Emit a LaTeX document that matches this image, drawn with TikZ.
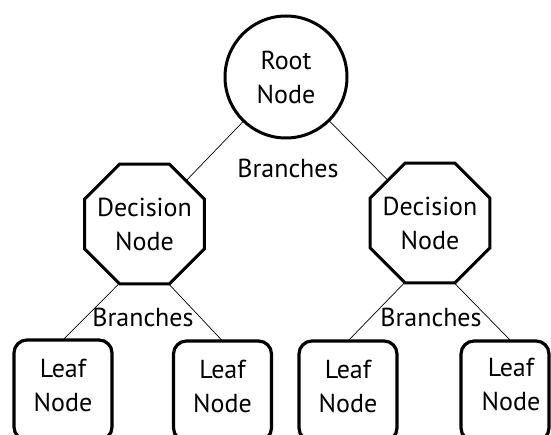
\documentclass[tikz,border=0pt]{standalone}
\usepackage{fontspec}
\setmainfont{PT Sans}
\usetikzlibrary{shapes.geometric}
\begin{document}
\begin{tikzpicture}[x=1pt,y=-1pt,
  every node/.style={font=\fontsize{26}{34}\selectfont, align=center, inner sep=0pt, outer sep=0pt},
  rootnode/.style={circle, draw, line width=3pt, minimum size=122pt},
  decision/.style={regular polygon, regular polygon sides=8, draw, line width=3pt, inner sep=-5pt, minimum size=126pt},
  leafbox/.style={rectangle, rounded corners=13pt, draw, line width=3.2pt, minimum width=98pt, minimum height=100pt},
  branch/.style={line width=0.7pt},
  lbl/.style={fill=none}]
  \useasboundingbox (0,0) rectangle (551,435);

  % tree nodes
  \node[rootnode] (root) at (286,77) {Root\\Node};
  \node[decision] (dl) at (144.5,224) {Decision\\Node};
  \node[decision] (dr) at (430,223) {Decision\\Node};

  \node[leafbox] (leaf1) at (63,390) {};
  \node[leafbox] (leaf2) at (222.5,391) {};
  \node[leafbox] (leaf3) at (348,391) {};
  \node[leafbox, minimum width=88pt] (leaf4) at (505,391) {};

  \node (t1) at (63,385) {Leaf\\Node};
  \node (t2) at (222.5,386) {Leaf\\Node};
  \node (t3) at (348,386) {Leaf\\Node};
  \node (t4) at (511,384) {Leaf\\Node};

  % branches
  \draw[branch] (root) -- (dl);
  \draw[branch] (root) -- (dr);
  \draw[branch] (dl.247.5) -- (leaf1.north);
  \draw[branch] (dl.292.5) -- (leaf2.north);
  \draw[branch] (dr.247.5) -- (leaf3.north);
  \draw[branch] (dr.292.5) -- (leaf4.north -| t4);

  \node[lbl] (b0) at (288,168) {Branches};
  \node[lbl] (b1) at (143,317) {Branches};
  \node[lbl] (b2) at (431,317) {Branches};
\end{tikzpicture}
\end{document}
